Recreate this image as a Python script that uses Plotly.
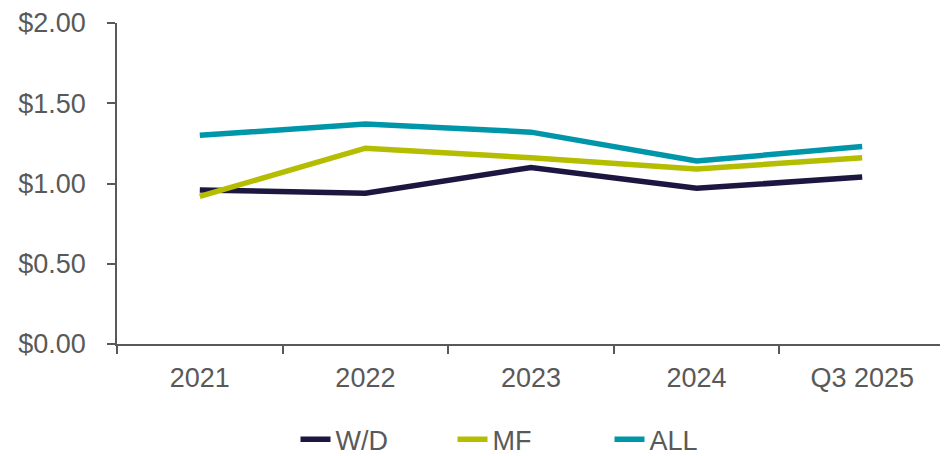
import plotly.graph_objects as go

categories = ["2021", "2022", "2023", "2024", "Q3 2025"]
wd = [0.96, 0.94, 1.10, 0.97, 1.04]
mf = [0.92, 1.22, 1.16, 1.09, 1.16]
all_ = [1.30, 1.37, 1.32, 1.14, 1.23]
y_ticks = [0, 0.5, 1.0, 1.5, 2.0]
y_tick_labels = ["$0.00", "$0.50", "$1.00", "$1.50", "$2.00"]

FONT = "Liberation Sans, Arial, sans-serif"
GREY = "#595959"
FS = 27

fig = go.Figure()
for name, vals, color in [("W/D", wd, "#1c1740"), ("MF", mf, "#b5bd00"), ("ALL", all_, "#0096aa")]:
    fig.add_trace(go.Scatter(x=categories, y=vals, name=name, mode="lines",
                             line=dict(color=color, width=5.5)))

fig.update_layout(
    width=937, height=470,
    margin=dict(l=109, r=0, t=15, b=134),
    paper_bgcolor="white", plot_bgcolor="white",
    font=dict(family=FONT, size=FS, color=GREY),
    showlegend=True,
    legend=dict(orientation="h", x=0.5, xanchor="center", y=-0.222, yanchor="top",
                font=dict(size=FS, color=GREY), entrywidth=112, entrywidthmode="pixels",
                tracegroupgap=0),
)
fig.update_xaxes(type="category", range=[-0.5, 4.5], showline=True, linecolor=GREY, linewidth=1.5,
                 ticks="outside", tickson="boundaries", ticklen=8, tickcolor=GREY, tickwidth=1.5,
                 showgrid=False, zeroline=False, tickfont=dict(size=FS, color=GREY),
                 ticklabelstandoff=9, automargin=False)
fig.update_yaxes(range=[0, 2.0], tickvals=y_ticks, ticktext=y_tick_labels, showline=True,
                 linecolor=GREY, linewidth=1.5, ticks="outside", ticklen=8, tickcolor=GREY,
                 tickwidth=1.5, showgrid=False, zeroline=False, tickfont=dict(size=FS, color=GREY),
                 ticklabelstandoff=16, automargin=False)

fig.write_html("out.html")
